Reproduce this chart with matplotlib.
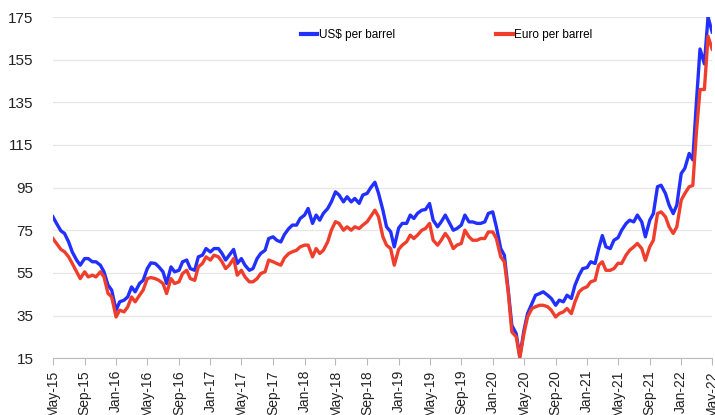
import matplotlib
matplotlib.use("Agg")
import matplotlib.pyplot as plt
import matplotlib.dates as mdates
import pandas as pd

# semi-monthly readings, May-15 .. May-22
dates = pd.date_range("2015-05-01", periods=169, freq="SMS")
usd = [81.3, 78.2, 74.7, 73.5, 69.5, 64.8, 61, 58.6, 61.7, 61.7, 60.2, 60.2, 58.6, 55.5, 49.2, 46.9,
       37.5, 41.4, 42.2, 43.7, 48.4, 46.1, 50, 51.5, 57, 59.7, 59.4, 57.8, 55.5, 50, 57.8, 55.5,
       56.2, 60.2, 61, 57, 56.2, 62.5, 63.3, 66.4, 64.8, 66.4, 66.4, 64.1, 61, 63.3, 66, 59.4,
       61.7, 58.6, 56.2, 57, 61.7, 64.1, 65.6, 71.1, 71.9, 70.3, 69.5, 73, 75.8, 77.4, 77.4, 80.5,
       82.1, 85.2, 78.2, 82.1, 79.7, 82.9, 85.2, 88.3, 93, 91.5, 88.3, 90.7, 88.3, 89.9, 87.6, 91.5,
       92.3, 95, 97.5, 92.3, 84.4, 76.6, 74.3, 67.2, 76, 78.2, 78.2, 82.1, 80.5, 82.9, 84.4, 84.7,
       87.5, 79.7, 76.6, 78.9, 82.1, 78.9, 75, 75.8, 77.4, 82.1, 78.9, 78.9, 78.2, 78.2, 78.9, 82.9,
       83.6, 76.6, 66.4, 63.3, 47, 30.4, 26.5, 15.8, 28, 35.9, 40.6, 44.5, 45.3, 46.1, 44.5, 43,
       39.8, 42.2, 41.4, 44.5, 43, 49.2, 53.9, 57, 57.5, 60.2, 59.4, 66.4, 72.5, 67.2, 66.4, 70.3,
       71.5, 75, 78.1, 79.7, 78.9, 82.1, 78.9, 71.9, 79.7, 82.8, 95.4, 96.1, 92.2, 86.8, 82.8, 86.8,
       101.6, 104, 111, 108, 135, 160, 153, 175, 168]
eur = [71.1, 68.8, 66, 64.9, 62.5, 59.4, 55.5, 52.3, 55.5, 53.1, 53.9, 53.1, 55.5, 53.1, 45.3, 43.7,
       34.3, 37.5, 36.7, 39, 43.7, 41.4, 44.5, 46.9, 52.3, 52.8, 52.3, 51.5, 50, 45.3, 52.3, 50,
       50.8, 54.7, 56.2, 52.3, 51.5, 57.8, 59.4, 62.5, 61, 63.3, 62.5, 60.2, 57, 58.6, 61.7, 53.9,
       56.2, 53.1, 50.8, 50.8, 52.3, 54.7, 55.5, 61, 60.2, 59.4, 58.6, 62, 64.1, 64.9, 65.6, 67.2,
       68, 68, 62.5, 66.4, 64.1, 65.6, 69.6, 75, 79, 78.2, 75, 76.6, 75, 76.6, 75.8, 77.4,
       79, 81.5, 84.4, 81.3, 71.9, 68, 66.4, 58.6, 66, 68, 69.6, 72.7, 71.1, 72.7, 75, 75.8,
       78.2, 70.3, 68, 70.3, 73.5, 71.1, 66.4, 68, 68.8, 75, 71.9, 70.3, 70.3, 71.1, 71.1, 74.2,
       74.2, 71.1, 62.5, 60.2, 46, 27.3, 25, 15.2, 26.5, 34.3, 38.3, 39.1, 39.8, 39.8, 39.1, 37.5,
       34.3, 35.9, 36.7, 38.3, 35.9, 41.4, 46.1, 47.6, 48.5, 50.8, 51.5, 58.6, 60.2, 56.2, 56.2, 57,
       59.5, 59.4, 63.3, 65.6, 67.2, 68.8, 66.4, 60.9, 67.2, 70.3, 82.8, 83.6, 81.3, 76.6, 73.5, 76.6,
       89.1, 92.2, 95.4, 96, 121, 141, 141, 166, 160]
yticks = [15, 35, 55, 75, 95, 115, 135, 155, 175]

plt.rcParams["font.family"] = ["Liberation Sans", "DejaVu Sans"]
fig = plt.figure(figsize=(7.15, 4.15), dpi=100)
ax = fig.add_axes([0.074, 0.137, 0.922, 0.822])

ax.plot(dates, usd, color="#2130ff", lw=2.4, label="US$ per barrel")
ax.plot(dates, eur, color="#f03e2c", lw=2.4, label="Euro per barrel")

ax.set_ylim(15, 175)
ax.set_yticks(yticks)
ax.set_xlim(dates[0], dates[-1])
ax.xaxis.set_major_locator(mdates.MonthLocator(bymonth=[1, 5, 9]))
ax.xaxis.set_major_formatter(mdates.DateFormatter("%b-%y"))
ax.tick_params(axis="x", rotation=90, labelsize=10, length=5, color="#bbbbbb", colors="#222222")
ax.tick_params(axis="y", length=0, labelsize=11, colors="#222222", pad=14)
for lab in ax.get_xticklabels():
    lab.set_color("#222222")
ax.grid(axis="y", color="#e6e6e6", lw=0.9)
ax.set_axisbelow(True)
for s in ["top", "right", "left"]:
    ax.spines[s].set_visible(False)
ax.spines["bottom"].set_color("#bbbbbb")

leg = ax.legend(loc="upper center", bbox_to_anchor=(0.597, 0.995), ncol=2, frameon=False,
                fontsize=8.5, handlelength=1.4, handletextpad=0.1, columnspacing=8.6)
for h in leg.get_lines():
    h.set_linewidth(3)

fig.savefig("out.png", dpi=100)
